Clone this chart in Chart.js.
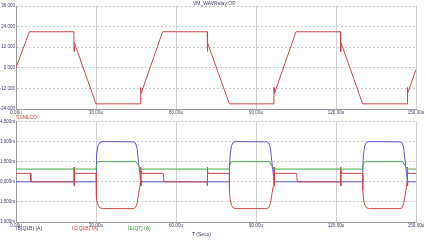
<!DOCTYPE html>
<html>
<head>
<meta charset="utf-8">
<script src="https://cdn.jsdelivr.net/npm/chart.js@4"></script>
<style>
  body { margin: 0; background: #fff; width: 426px; height: 240px; position: relative; overflow: hidden; font-family: "Liberation Sans", Arial, sans-serif; }
  canvas { position: absolute; left: 0; }
  .lbl { position: absolute; font-size: 5px; line-height: 5px; white-space: nowrap; }
</style>
</head>
<body>
<canvas id="topChart" width="426" height="120" style="top:0"></canvas>
<canvas id="botChart" width="426" height="128" style="top:112px"></canvas>
<div class="lbl" style="left:193px;top:1px;color:#3a3a6a">VM_WAVRelay:OP</div>
<div class="lbl" style="left:16px;top:115px;color:#cc4444">SSMLCO</div>
<div class="lbl" style="left:16px;top:226px;color:#3a3a6a">IB(Q1B) (A)</div>
<div class="lbl" style="left:72px;top:226px;color:#cc4444">IC(Q1B) (A)</div>
<div class="lbl" style="left:128px;top:226px;color:#339933">IE(Q7) (A)</div>
<div class="lbl" style="left:192px;top:232px;color:#3a3a6a">T (Secs)</div>
<script>
// time in microseconds
const xTicks = [0, 30, 60, 90, 120, 150];

// top plot: SSMLCO (V)
const vT = [0, 5, 21.7, 21.75, 21.9, 30, 46.7, 46.75, 46.9, 55, 71.7, 71.75, 71.9, 80, 96.7, 96.75, 96.9, 105, 121.7, 121.75, 121.9, 130, 146.7, 146.75, 146.9, 150];
const vV = [0, 21, 21, 9.5, 14.5, -21, -21, -11.5, -15, 21, 21, 9.5, 14.5, -21, -21, -11.5, -15, 21, 21, 9.5, 14.5, -21, -21, -11.5, -15, -1];

// bottom plot currents (mA)
const ibT = [0, 21.7, 21.75, 21.85, 22, 30, 30.05, 30.3, 30.8, 31.5, 32.5, 44, 44.8, 45.4, 45.9, 46.4, 46.75, 46.8, 46.95, 47.1,
  71.7, 71.75, 71.85, 72, 80, 80.05, 80.3, 80.8, 81.5, 82.5, 94, 94.8, 95.4, 95.9, 96.4, 96.75, 96.8, 96.95, 97.1,
  121.7, 121.75, 121.85, 122, 130, 130.05, 130.3, 130.8, 131.5, 132.5, 144, 144.8, 145.4, 145.9, 146.4, 146.75, 146.8, 146.95, 147.1, 150];
const ibV = [0, 0, -0.3, 0.1, 0, 0, 1.0, 2.0, 2.7, 2.95, 3.0, 2.98, 2.9, 2.5, 1.6, 0.7, 0, -0.3, 0.1, 0,
  0, -0.3, 0.1, 0, 0, 1.0, 2.0, 2.7, 2.95, 3.0, 2.98, 2.9, 2.5, 1.6, 0.7, 0, -0.3, 0.1, 0,
  0, -0.3, 0.1, 0, 0, 1.0, 2.0, 2.7, 2.95, 3.0, 2.98, 2.9, 2.5, 1.6, 0.7, 0, -0.3, 0.1, 0, 0];

const icT = [0, 5.3, 5.6, 21.7, 21.75, 21.8, 21.9, 22.1, 30, 30.05, 30.3, 30.8, 31.5, 32.5, 44, 44.8, 45.4, 45.9, 46.4, 46.7, 46.75, 46.8, 46.9, 47.1, 55.2, 55.5,
  71.7, 71.75, 71.8, 71.9, 72.1, 80, 80.05, 80.3, 80.8, 81.5, 82.5, 94, 94.8, 95.4, 95.9, 96.4, 96.7, 96.75, 96.8, 96.9, 97.1, 105.2, 105.5,
  121.7, 121.75, 121.8, 121.9, 122.1, 130, 130.05, 130.3, 130.8, 131.5, 132.5, 144, 144.8, 145.4, 145.9, 146.4, 146.7, 146.75, 146.8, 146.9, 147.1, 150];
const icV = [0.63, 0.63, 0, 0, 1.1, -0.3, 0.8, 0.63, 0.63, -0.6, -1.3, -1.75, -1.95, -2.0, -2.0, -1.93, -1.6, -1.0, -0.4, 0, 1.1, -0.3, 0.8, 0.63, 0.63, 0,
  0, 1.1, -0.3, 0.8, 0.63, 0.63, -0.6, -1.3, -1.75, -1.95, -2.0, -2.0, -1.93, -1.6, -1.0, -0.4, 0, 1.1, -0.3, 0.8, 0.63, 0.63, 0,
  0, 1.1, -0.3, 0.8, 0.63, 0.63, -0.6, -1.3, -1.75, -1.95, -2.0, -2.0, -1.93, -1.6, -1.0, -0.4, 0, 1.1, -0.3, 0.8, 0.63, 0.63];

const ieT = [0, 30, 30.1, 30.5, 31, 45, 45.6, 46.2, 46.75, 80, 80.1, 80.5, 81, 95, 95.6, 96.2, 96.75, 130, 130.1, 130.5, 131, 145, 145.6, 146.2, 146.75, 150];
const ieV = [0.95, 0.95, 1.2, 1.45, 1.5, 1.5, 1.3, 1.1, 0.95, 0.95, 1.2, 1.45, 1.5, 1.5, 1.3, 1.1, 0.95, 0.95, 1.2, 1.45, 1.5, 1.5, 1.3, 1.1, 0.95, 0.95];

const topTicks = [-24, -12, 0, 12, 24, 36];
const botTicks = [-3, -1.5, 0, 1.5, 3, 4.5];

function pts(t, v) {
  return t.map(function(x, i) { return {x: x, y: v[i]}; });
}

const tickFont = {family: '"Liberation Sans", Arial, sans-serif', size: 4.5};
const tickColor = '#3a3a6a';

function makeOpts(yTicks, ySuffix, topPad, xHeight) {
  return {
    responsive: false,
    animation: false,
    devicePixelRatio: 1,
    layout: {padding: {top: topPad, right: 10, left: 0, bottom: 0}},
    plugins: {legend: {display: false}, tooltip: {enabled: false}},
    elements: {point: {radius: 0}, line: {borderWidth: 1, tension: 0}},
    scales: {
      x: {
        type: 'linear', min: 0, max: 150,
        afterBuildTicks: function(axis) { axis.ticks = xTicks.map(function(v) { return {value: v}; }); },
        afterFit: function(axis) { axis.height = xHeight; },
        ticks: {font: tickFont, color: tickColor, padding: 1, maxRotation: 0,
          callback: function(v) { return v.toFixed(2) + 'u'; }},
        grid: {color: '#cfcfcf', lineWidth: 1, drawTicks: false},
        border: {color: '#9a9a9a'}
      },
      y: {
        type: 'linear', min: yTicks[0], max: yTicks[yTicks.length - 1],
        afterBuildTicks: function(axis) { axis.ticks = yTicks.map(function(v) { return {value: v}; }); },
        afterFit: function(axis) { axis.width = 16; },
        ticks: {font: tickFont, color: tickColor, padding: 1,
          callback: function(v) { return v.toFixed(3) + ySuffix; }},
        grid: {color: '#c8c8c8', lineWidth: 1, drawTicks: false},
        border: {color: '#9a9a9a', dash: [2, 2]}
      }
    }
  };
}

new Chart(document.getElementById('topChart'), {
  type: 'line',
  data: {datasets: [{label: 'SSMLCO', data: pts(vT, vV), borderColor: '#cc4a4a'}]},
  options: makeOpts(topTicks, '', 6, 11)
});

new Chart(document.getElementById('botChart'), {
  type: 'line',
  data: {datasets: [
    {label: 'IE(Q7) (A)', data: pts(ieT, ieV), borderColor: '#44a844'},
    {label: 'IC(Q1B) (A)', data: pts(icT, icV), borderColor: '#cc4a4a'},
    {label: 'IB(Q1B) (A)', data: pts(ibT, ibV), borderColor: '#5a5acc'}
  ]},
  options: makeOpts(botTicks, 'm', 9.5, 18)
});
</script>
</body>
</html>
